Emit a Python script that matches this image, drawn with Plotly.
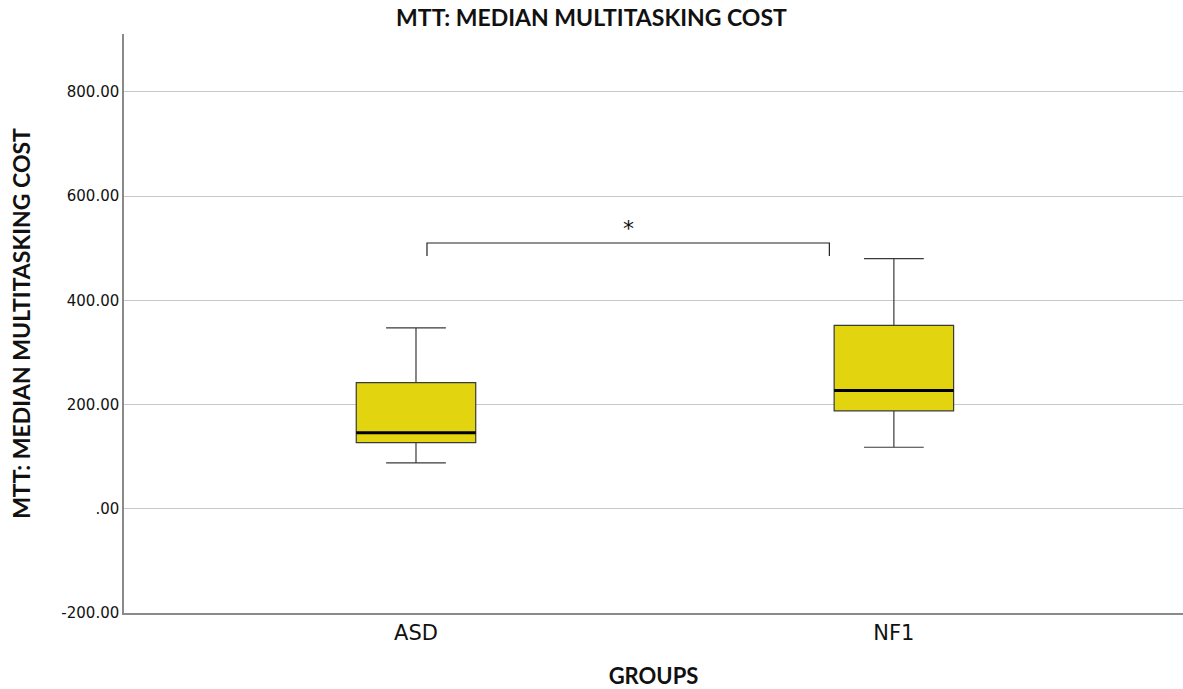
import plotly.graph_objects as go

# Group summaries (five-number boxplot statistics)
groups = ["ASD", "NF1"]
lower_whisker = [88, 118]
q1 = [127, 188]
median = [146, 227]
q3 = [242, 352]
upper_whisker = [347, 480]

y_ticks = [-200, 0, 200, 400, 600, 800]
y_tick_labels = ["-200.00", ".00", "200.00", "400.00", "600.00", "800.00"]

# Significance bracket between the two groups
bracket_top = 510
bracket_foot = 485
sig_label = "*"

fill = "#E2D50F"
edge = "#3a3a3a"
x_pos = [0, 1]
box_w = 0.25

title_font = "Lato, sans-serif"

fig = go.Figure()
fig.add_trace(go.Box(
    x=x_pos,
    q1=q1, median=median, q3=q3,
    lowerfence=lower_whisker, upperfence=upper_whisker,
    width=box_w, whiskerwidth=0.5,
    fillcolor=fill,
    line=dict(color=edge, width=1.2),
    boxpoints=False,
    hoverinfo="skip",
    showlegend=False,
))

# Heavier median lines
for xp, m in zip(x_pos, median):
    fig.add_shape(type="line", x0=xp - box_w / 2, x1=xp + box_w / 2, y0=m, y1=m,
                  line=dict(color="black", width=3), layer="above")

# Bracket and asterisk
xa = x_pos[0] + 0.023
xb = x_pos[1] - 0.135
fig.add_shape(type="path",
              path=f"M {xa},{bracket_foot} L {xa},{bracket_top} L {xb},{bracket_top} L {xb},{bracket_foot}",
              line=dict(color="#222", width=1.2))
fig.add_annotation(x=(xa + xb) / 2, y=bracket_top, text=sig_label, showarrow=False,
                   yanchor="bottom", yshift=0, font=dict(size=22, color="#111", family="DejaVu Sans"))

fig.update_layout(
    width=1183, height=689,
    margin=dict(l=124, r=0, t=34, b=76),
    plot_bgcolor="white", paper_bgcolor="white",
    title=dict(text="<b>MTT: MEDIAN MULTITASKING COST</b>", x=0.5, xanchor="center",
               y=0.974, yanchor="middle",
               font=dict(size=23, color="#111", family=title_font)),
    xaxis=dict(
        range=[-0.611, 1.605],
        tickvals=x_pos, ticktext=groups,
        tickfont=dict(size=21, color="#111", family="DejaVu Sans"),
        showgrid=False, zeroline=False,
        showline=True, linecolor="#8a8a8a", linewidth=1.5,
        ticks="", ticklen=0,
        title=dict(text="<b>GROUPS</b>", font=dict(size=22, color="#111", family=title_font),
                   standoff=28),
    ),
    yaxis=dict(
        range=[-200, 911],
        tickvals=y_ticks, ticktext=y_tick_labels,
        tickfont=dict(size=15, color="#111", family="DejaVu Sans"),
        showgrid=True, gridcolor="#c8c8c8", gridwidth=1.2,
        zeroline=False,
        showline=True, linecolor="#8a8a8a", linewidth=1.5,
        ticks="", ticklen=0,
        title=dict(text="<b>MTT: MEDIAN MULTITASKING COST</b>",
                   font=dict(size=23, color="#111", family=title_font), standoff=24),
    ),
)

fig.write_html("out.html")
